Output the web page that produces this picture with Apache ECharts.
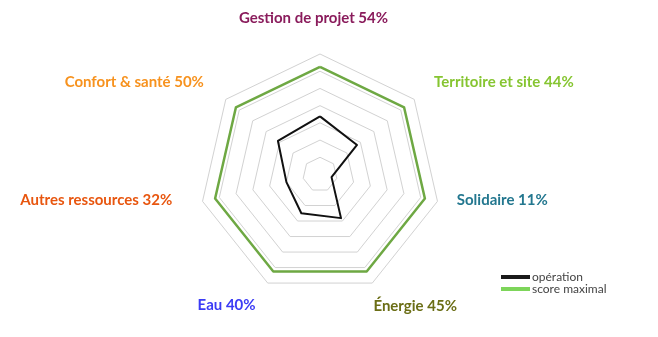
<!DOCTYPE html>
<html>
<head>
<meta charset="utf-8">
<script src="https://cdn.jsdelivr.net/npm/echarts@6/dist/echarts.min.js"></script>
<style>html,body{margin:0;padding:0;background:#fff;}#c{width:658px;height:337px;}</style>
</head>
<body>
<div id="c"></div>
<script>
// categories in counter-clockwise order starting at the top
const categories = ['Gestion de projet', 'Confort & santé', 'Autres ressources', 'Eau', 'Énergie', 'Solidaire', 'Territoire et site'];
const operation = [54, 50, 32, 40, 45, 11, 44];
const scoreMaximal = [100, 100, 100, 100, 100, 100, 100];
const labelColors = ['#8a1c5c', '#f7921e', '#e8560f', '#3b3bf5', '#6b6e16', '#23778f', '#86c531'];
const seriesNames = ['opération', 'score maximal'];
const axisMax = 112;

// per-label nudges [top, right, bottom, left] padding (layout only)
const labelPads = [[0, 13, 0, 0], [0, 0, 0, 0], [0, 3, 14, 0], [0, 0, 6, 0], [0, 0, 4, -11], [0, 0, 14, -8], [0, 0, 0, -2]];

const rich = {};
categories.forEach((c, i) => {
  rich['l' + i] = {fontFamily: 'Lato', fontWeight: 'bold', fontSize: 15, color: labelColors[i], padding: labelPads[i]};
});

const chart = echarts.init(document.getElementById('c'), null, {renderer: 'canvas'});
chart.setOption({
  animation: false,
  backgroundColor: '#fff',
  legend: {
    orient: 'vertical',
    left: 501,
    top: 271,
    itemGap: 0,
    itemWidth: 29,
    itemHeight: 4,
    padding: 0,
    icon: 'rect',
    textStyle: {fontFamily: 'Lato', fontSize: 12, color: '#444', lineHeight: 10, padding: [0, 0, 0, -3]},
    data: [
      {name: seriesNames[0], itemStyle: {color: '#1a1a1a'}},
      {name: seriesNames[1], itemStyle: {color: '#7dd55a'}}
    ]
  },
  radar: {
    center: [320, 174.5],
    radius: 120.5,
    startAngle: 90,
    shape: 'polygon',
    splitNumber: 7,
    nameGap: 28,
    axisName: {fontFamily: 'Lato', fontWeight: 'bold', fontSize: 15, rich: rich,
      formatter: function (name) { const i = categories.indexOf(name); return '{l' + i + '|' + name + ' ' + operation[i] + '%}'; }},
    indicator: categories.map((n, i) => ({name: n, max: axisMax, color: labelColors[i]})),
    axisLine: {show: false},
    splitLine: {lineStyle: {color: '#d2d2d2', width: 1}},
    splitArea: {show: false}
  },
  series: [{
    type: 'radar',
    symbol: 'none',
    data: [
      {name: seriesNames[1], value: scoreMaximal, lineStyle: {color: '#6ea843', width: 2.5}, itemStyle: {color: '#7dd55a'}},
      {name: seriesNames[0], value: operation, lineStyle: {color: '#111', width: 2}, itemStyle: {color: '#1a1a1a'}}
    ]
  }]
});
</script>
</body>
</html>
